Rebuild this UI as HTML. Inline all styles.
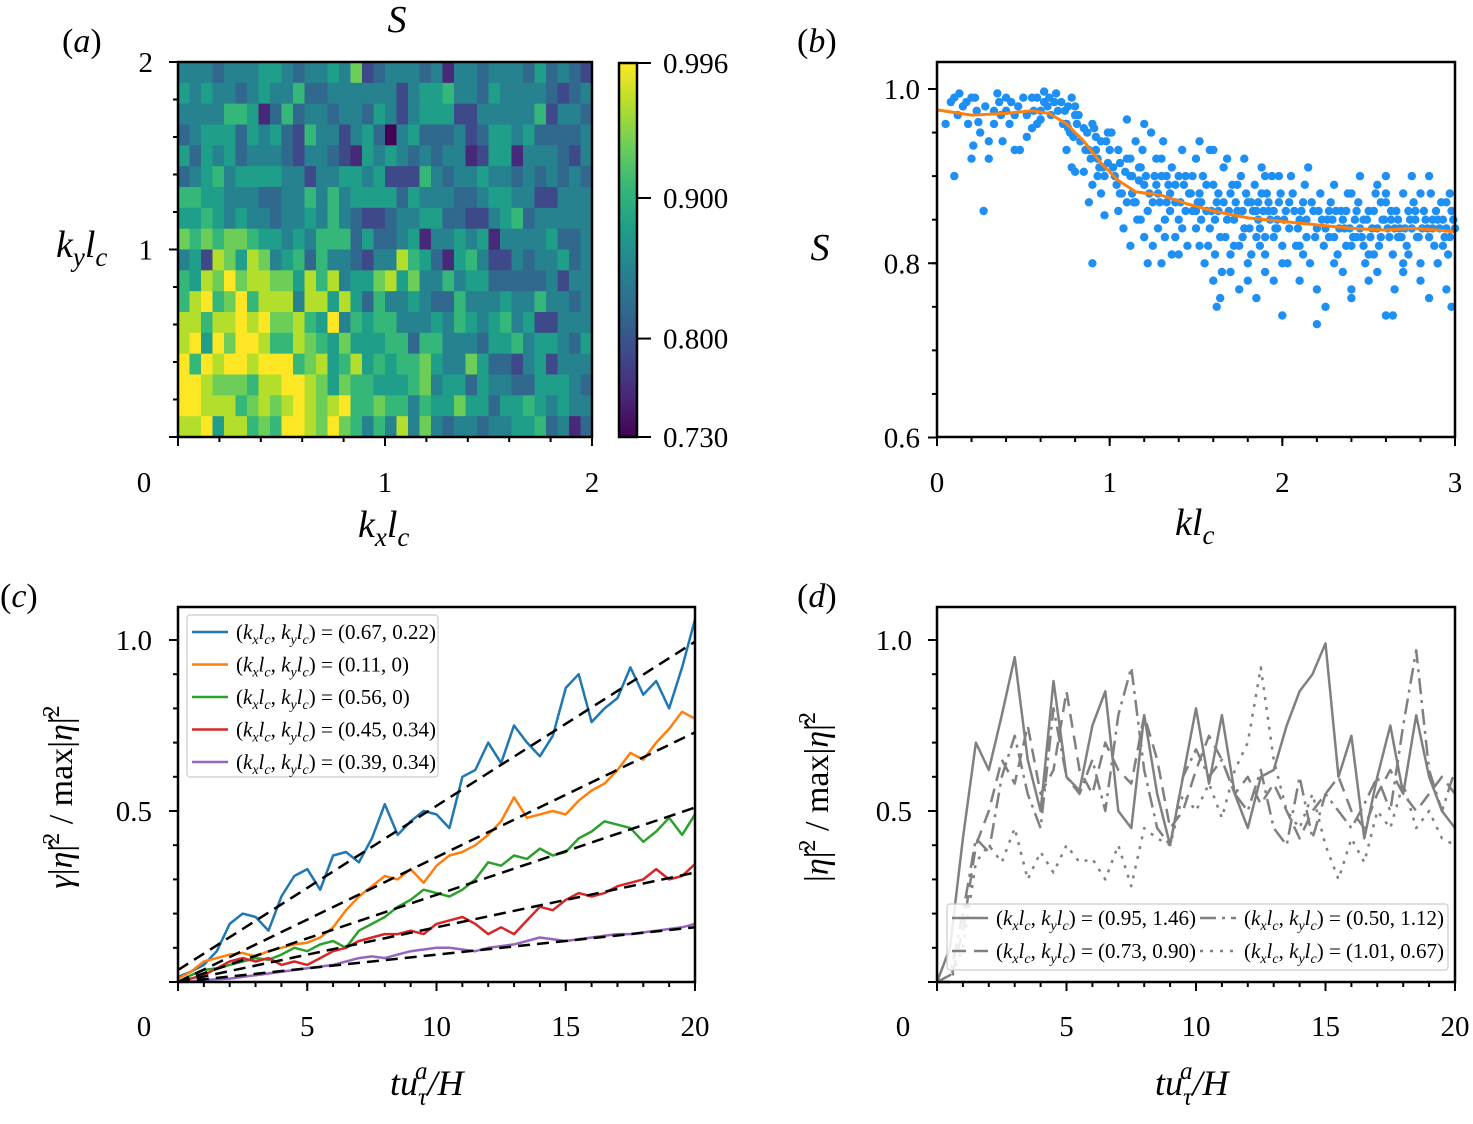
<!DOCTYPE html>
<html><head><meta charset="utf-8"><style>
html,body{margin:0;padding:0;background:#fff}
svg{display:block;font-family:"Liberation Serif",serif}
</style></head><body>
<svg id="fig" width="1473" height="1124" viewBox="0 0 1473 1124" xmlns="http://www.w3.org/2000/svg">
<g font-size="34" fill="#000">
<text x="62" y="52">(<tspan font-style="italic">a</tspan>)</text>
<text x="797" y="52">(<tspan font-style="italic">b</tspan>)</text>
<text x="0" y="607">(<tspan font-style="italic">c</tspan>)</text>
<text x="797" y="607">(<tspan font-style="italic">d</tspan>)</text>
<text x="397" y="32" text-anchor="middle" font-size="38" font-style="italic">S</text>
<text x="358" y="537" font-size="38" font-style="italic">k<tspan font-size="27" dy="9">x</tspan><tspan dy="-9">l</tspan><tspan font-size="27" dy="9">c</tspan></text>
<text x="56" y="257" font-size="38" font-style="italic">k<tspan font-size="27" dy="9">y</tspan><tspan dy="-9">l</tspan><tspan font-size="27" dy="9">c</tspan></text>
<text x="1175" y="535" font-size="38" font-style="italic">kl<tspan font-size="27" dy="9">c</tspan></text>
<text x="820" y="260" font-size="38" font-style="italic" text-anchor="middle">S</text>
<text x="390" y="1095" font-size="36" font-style="italic">tu<tspan font-size="25" dy="10">τ</tspan><tspan font-size="25" dx="-12" dy="-26">a</tspan><tspan dy="16">/H</tspan></text>
<text x="1155" y="1095" font-size="36" font-style="italic">tu<tspan font-size="25" dy="10">τ</tspan><tspan font-size="25" dx="-12" dy="-26">a</tspan><tspan dy="16">/H</tspan></text>
<text transform="translate(72,797) rotate(-90)" text-anchor="middle" font-size="34"><tspan font-style="italic">γ</tspan>|<tspan font-style="italic">η̂</tspan>|<tspan font-size="24" dy="-13">2</tspan><tspan dy="13"> / max|</tspan><tspan font-style="italic">η̂</tspan>|<tspan font-size="24" dy="-13">2</tspan></text>
<text transform="translate(828,797) rotate(-90)" text-anchor="middle" font-size="34">|<tspan font-style="italic">η̂</tspan>|<tspan font-size="24" dy="-13">2</tspan><tspan dy="13"> / max|</tspan><tspan font-style="italic">η̂</tspan>|<tspan font-size="24" dy="-13">2</tspan></text>
</g>
<defs><linearGradient id="vir" x1="0" y1="1" x2="0" y2="0">
<stop offset="0" stop-color="#440154"/><stop offset="0.111" stop-color="#482878"/><stop offset="0.222" stop-color="#3e4989"/><stop offset="0.333" stop-color="#31688e"/><stop offset="0.444" stop-color="#26828e"/><stop offset="0.556" stop-color="#1f9e89"/><stop offset="0.667" stop-color="#35b779"/><stop offset="0.778" stop-color="#6dcd59"/><stop offset="0.889" stop-color="#b4de2c"/><stop offset="1" stop-color="#fde725"/>
</linearGradient></defs>
<g id="layer"></g>
</svg>
<script>
// ---------- data: panel (a) heatmap (levels 0..9 -> S) ----------
const heatRows = [
"444344455434454723444341443444353432",
"545443454463344444424556443544443234",
"444466513634434435424555224444462443",
"345553545326442453045333423554533334",
"535453444324432154543434412551444324",
"345645555442445545222643445443434343",
"665544433446464555535444334554422444",
"556545443445464322344553322456344444",
"767677655454666353345144545144445334",
"452875874563644324486531564224344534",
"658797887758684557857446455333334244",
"689679688848858536445433644454464434",
"886889897786594656644454654564522444",
"895979986687657555663664443556455435",
"969899899967856856566754475332452444",
"998777688998757665556745535443355543",
"998886787898789667664655755355654544",
"889588676998797646484743443445563413"];
const heatMin = 0.73, heatMax = 0.996;
const cbTicks = [0.996, 0.900, 0.800, 0.730];
const cbTickLabels = ["0.996", "0.900", "0.800", "0.730"];

// ---------- data: panel (b) scatter ----------
const scatK = [0.08,0.1,0.13,0.15,0.18,0.2,0.22,0.25,0.28,0.3,0.33,0.36,0.38,0.4,0.42,0.45,0.47,0.5,0.52,0.55,0.58,0.6,0.62,0.64,0.66,0.69,0.3,0.1,0.2,0.24,0.05,0.35,0.48,0.56,0.21,0.45,0.52,0.6,0.27,0.72,0.74,0.76,0.78,0.8,
0.75,0.77,0.8,0.82,0.75,0.78,0.8,0.85,0.87,0.88,0.9,0.92,0.93,0.95,0.96,0.98,1.0,0.9,0.85,0.95,0.97,0.93,0.99,0.88,0.9,0.91,
1.02,1.05,1.07,1.1,1.12,1.14,1.15,1.18,1.2,1.22,1.24,1.26,1.28,1.3,1.32,1.34,1.36,1.38,1.4,1.42,1.44,1.46,1.48,1.5,1.05,1.08,1.12,1.15,1.2,1.25,1.3,1.35,1.4,1.45,1.1,1.2,1.06,1.17,1.27,1.38,1.48,1.33,1.43,1.23,1.13,1.04,1.09,1.5,1.52,1.36,1.29,1.16,1.31,
1.52,1.54,1.56,1.58,1.6,1.62,1.64,1.66,1.68,1.7,1.72,1.74,1.76,1.78,1.8,1.82,1.84,1.86,1.88,1.9,1.92,1.94,1.96,1.98,2.0,1.55,1.6,1.62,1.65,1.7,1.75,1.8,1.85,1.9,1.95,2.0,1.58,1.68,1.78,1.88,1.98,1.53,1.63,1.73,1.83,1.93,1.57,1.67,1.77,1.87,1.97,1.51,1.71,1.91,1.61,1.81,1.64,1.9,1.86,
2.02,2.04,2.06,2.08,2.1,2.12,2.14,2.16,2.18,2.2,2.22,2.24,2.26,2.28,2.3,2.32,2.34,2.36,2.38,2.4,2.42,2.44,2.46,2.48,2.5,2.52,2.54,2.56,2.58,2.6,2.62,2.64,2.66,2.68,2.7,2.72,2.74,2.76,2.78,2.8,2.82,2.84,2.86,2.88,2.9,2.92,2.94,2.96,2.98,3.0,2.05,2.15,2.3,2.45,2.6,2.75,2.85,2.55,2.1,2.2,2.25,2.35,2.4,2.5,2.55,2.6,2.65,2.7,2.8,2.85,2.9,2.95,2.98,2.2,2.12,2.37,2.63,2.87,2.13,2.53,2.73,2.93,2.27,2.47,2.67,2.97,2.57,2.77,2.03,2.43,1.6,2.64,2.4];
const scatS = [0.985,0.99,0.995,0.98,0.96,0.99,0.99,0.95,0.98,0.94,0.96,0.985,0.94,0.975,0.96,0.93,0.98,0.99,0.97,0.955,0.99,0.975,0.997,0.98,0.97,0.995,0.92,0.9,0.92,0.962,0.96,0.995,0.93,0.975,0.935,0.97,0.945,0.965,0.86,0.985,0.975,0.98,0.99,0.97,
0.96,0.95,0.98,0.97,0.93,0.91,0.905,0.955,0.95,0.93,0.96,0.945,0.92,0.94,0.91,0.94,0.93,0.89,0.905,0.88,0.855,0.9,0.95,0.87,0.8,0.955,
0.91,0.93,0.88,0.92,0.9,0.87,0.94,0.91,0.89,0.86,0.95,0.9,0.88,0.92,0.85,0.89,0.91,0.87,0.9,0.93,0.86,0.88,0.9,0.84,0.86,0.84,0.92,0.87,0.83,0.82,0.8,0.88,0.85,0.82,0.965,0.96,0.915,0.895,0.92,0.83,0.86,0.9,0.89,0.88,0.9,0.89,0.905,0.92,0.94,0.81,0.87,0.85,0.94,
0.88,0.9,0.86,0.84,0.89,0.87,0.83,0.91,0.85,0.88,0.82,0.86,0.9,0.84,0.87,0.81,0.89,0.85,0.88,0.83,0.86,0.9,0.84,0.87,0.82,0.8,0.78,0.75,0.79,0.81,0.77,0.8,0.76,0.79,0.78,0.74,0.93,0.92,0.92,0.91,0.9,0.85,0.86,0.87,0.86,0.85,0.82,0.83,0.83,0.82,0.84,0.87,0.89,0.88,0.81,0.84,0.76,0.9,0.87,
0.86,0.84,0.88,0.82,0.85,0.87,0.83,0.8,0.86,0.84,0.88,0.82,0.85,0.87,0.83,0.81,0.86,0.84,0.88,0.82,0.85,0.87,0.83,0.8,0.86,0.84,0.88,0.82,0.85,0.87,0.83,0.81,0.86,0.84,0.88,0.82,0.85,0.87,0.83,0.8,0.86,0.84,0.88,0.82,0.85,0.87,0.83,0.81,0.86,0.84,0.9,0.91,0.89,0.9,0.9,0.9,0.9,0.89,0.78,0.77,0.75,0.79,0.76,0.78,0.79,0.74,0.77,0.79,0.78,0.76,0.8,0.77,0.75,0.73,0.81,0.82,0.85,0.85,0.89,0.81,0.81,0.82,0.86,0.85,0.83,0.88,0.87,0.86,0.8,0.83,0.93,0.74,0.77];
const scatK2 = [0.62,0.65,0.68,0.7,0.73,0.76,0.79,0.81,0.83,0.86,0.89,0.92,0.94,0.97,0.99,0.4,0.43,0.33,0.37,0.17,0.12,0.55,0.58,0.23,
1.01,1.03,1.06,1.1,1.13,1.17,1.19,1.21,1.25,1.27,1.3,1.33,1.35,1.38,1.41,1.44,1.47,1.5,1.53,1.56,1.59,1.12,1.22,1.32,1.42,1.52,1.18,1.28,1.4,
1.61,1.63,1.66,1.69,1.72,1.74,1.77,1.79,1.82,1.85,1.87,1.89,1.92,1.95,1.97,1.99,2.01,2.04,2.07,2.09,2.11,2.14,2.17,2.19,1.7,1.8,1.9,2.0,2.1,1.75,1.85,1.95,
2.21,2.23,2.25,2.27,2.29,2.31,2.33,2.35,2.37,2.39,2.41,2.43,2.45,2.47,2.49,2.51,2.53,2.55,2.57,2.59,2.61,2.63,2.65,2.67,2.69,2.71,2.73,2.75,2.77,2.79,2.81,2.83,2.85,2.87,2.89,2.91,2.93,2.95,2.97,2.99,2.3,2.5,2.7,2.9,2.4,2.6,2.8,2.95];
const scatS2 = [0.985,0.99,0.985,0.975,0.96,0.955,0.945,0.96,0.94,0.93,0.92,0.93,0.91,0.9,0.915,0.99,0.985,0.975,0.97,0.985,0.97,0.99,0.96,0.975,
0.95,0.9,0.88,0.87,0.88,0.91,0.93,0.9,0.87,0.89,0.9,0.87,0.86,0.89,0.87,0.9,0.88,0.86,0.87,0.89,0.86,0.82,0.8,0.83,0.84,0.82,0.85,0.84,0.81,
0.85,0.88,0.87,0.86,0.85,0.89,0.86,0.88,0.87,0.86,0.84,0.86,0.87,0.86,0.85,0.88,0.85,0.87,0.86,0.84,0.86,0.85,0.87,0.83,0.79,0.78,0.81,0.8,0.82,0.82,0.83,0.83,
0.86,0.85,0.84,0.83,0.85,0.86,0.84,0.85,0.86,0.84,0.83,0.86,0.84,0.82,0.85,0.83,0.86,0.84,0.83,0.85,0.84,0.86,0.84,0.85,0.83,0.84,0.86,0.84,0.85,0.83,0.84,0.85,0.83,0.84,0.86,0.84,0.85,0.84,0.83,0.85,0.8,0.81,0.8,0.8,0.88,0.88,0.88,0.87];
const fitK = [0,0.2,0.4,0.55,0.65,0.75,0.85,0.95,1.05,1.15,1.3,1.45,1.6,1.8,2.0,2.2,2.4,2.6,2.75,2.9,3.0];
const fitS = [0.976,0.97,0.972,0.975,0.972,0.96,0.94,0.915,0.895,0.882,0.878,0.868,0.86,0.852,0.848,0.844,0.84,0.838,0.84,0.838,0.836];

// ---------- data: panel (c) ----------
const cLabels = ["(0.67, 0.22)","(0.11, 0)","(0.56, 0)","(0.45, 0.34)","(0.39, 0.34)"];
const cColors = ["#1f77b4","#ff7f0e","#2ca02c","#d62728","#9467bd"];
const tSteps = [0,0.5,1,1.5,2,2.5,3,3.5,4,4.5,5,5.5,6,6.5,7,7.5,8,8.5,9,9.5,10,10.5,11,11.5,12,12.5,13,13.5,14,14.5,15,15.5,16,16.5,17,17.5,18,18.5,19,19.5,20];
const cBlue = [0.015,0.03,0.05,0.09,0.17,0.2,0.19,0.15,0.25,0.31,0.33,0.27,0.37,0.38,0.35,0.42,0.52,0.43,0.47,0.5,0.49,0.45,0.6,0.62,0.7,0.64,0.75,0.7,0.66,0.72,0.86,0.9,0.76,0.8,0.83,0.92,0.84,0.88,0.8,0.92,1.06];
const cOrange = [0.01,0.03,0.06,0.07,0.08,0.085,0.075,0.09,0.1,0.11,0.115,0.13,0.16,0.21,0.25,0.28,0.31,0.3,0.33,0.29,0.34,0.37,0.38,0.4,0.43,0.47,0.54,0.48,0.49,0.5,0.49,0.53,0.56,0.58,0.62,0.67,0.65,0.7,0.74,0.79,0.77];
const cGreen = [0,0.02,0.035,0.04,0.05,0.06,0.07,0.065,0.08,0.1,0.09,0.11,0.12,0.1,0.15,0.17,0.19,0.22,0.24,0.27,0.26,0.25,0.27,0.3,0.35,0.34,0.37,0.36,0.39,0.37,0.38,0.42,0.44,0.47,0.46,0.45,0.41,0.44,0.48,0.43,0.49];
const cRed = [0,0.01,0.02,0.04,0.06,0.07,0.06,0.07,0.05,0.06,0.05,0.07,0.09,0.1,0.12,0.13,0.14,0.14,0.15,0.14,0.17,0.18,0.19,0.17,0.14,0.16,0.14,0.18,0.22,0.21,0.24,0.26,0.25,0.26,0.28,0.29,0.3,0.33,0.3,0.31,0.345];
const cPurple = [0,0.002,0.005,0.008,0.01,0.015,0.02,0.025,0.03,0.035,0.04,0.045,0.05,0.06,0.07,0.075,0.07,0.08,0.09,0.095,0.1,0.1,0.095,0.09,0.1,0.105,0.11,0.12,0.13,0.125,0.12,0.125,0.13,0.135,0.14,0.14,0.145,0.15,0.155,0.16,0.17];
const fitStart = [0.035,0,0,0,0];
const fitEnd = [0.995,0.73,0.51,0.32,0.16];

// ---------- data: panel (d) ----------
const dLabels = ["(0.95, 1.46)","(0.73, 0.90)","(0.50, 1.12)","(1.01, 0.67)"];
const dSolid = [0,0.1,0.42,0.7,0.62,0.78,0.95,0.65,0.5,0.88,0.6,0.56,0.75,0.85,0.5,0.45,0.78,0.55,0.4,0.6,0.8,0.58,0.78,0.55,0.45,0.6,0.62,0.75,0.85,0.9,0.99,0.6,0.72,0.42,0.6,0.75,0.55,0.78,0.6,0.5,0.45];
const dDashed = [0,0,0.15,0.4,0.5,0.65,0.58,0.75,0.55,0.62,0.85,0.62,0.55,0.7,0.62,0.58,0.78,0.65,0.45,0.5,0.62,0.72,0.65,0.55,0.6,0.52,0.58,0.5,0.42,0.5,0.55,0.6,0.5,0.45,0.55,0.62,0.55,0.5,0.55,0.6,0.55];
const dDashDot = [0,0.02,0.2,0.42,0.38,0.6,0.72,0.55,0.45,0.8,0.6,0.55,0.65,0.5,0.78,0.92,0.62,0.45,0.4,0.6,0.68,0.6,0.65,0.55,0.5,0.62,0.45,0.4,0.6,0.42,0.55,0.5,0.45,0.52,0.6,0.5,0.75,0.97,0.62,0.5,0.62];
const dDotted = [0,0,0.1,0.35,0.4,0.35,0.45,0.3,0.38,0.32,0.4,0.35,0.36,0.3,0.4,0.28,0.45,0.42,0.4,0.55,0.5,0.58,0.48,0.62,0.7,0.92,0.65,0.5,0.45,0.55,0.4,0.3,0.42,0.35,0.5,0.45,0.58,0.45,0.5,0.42,0.4];
const dDash = ["", "14,8", "16,6,3,6", "3,7"];

// ---------- helpers ----------
const NS = "http://www.w3.org/2000/svg";
const layer = document.getElementById('layer');
function mk(tag, attrs, parent) {
  const e = document.createElementNS(NS, tag);
  for (const k in attrs) e.setAttribute(k, attrs[k]);
  (parent || layer).appendChild(e);
  return e;
}
function scale(d0, d1, r0, r1) { return v => r0 + (v - d0) / (d1 - d0) * (r1 - r0); }
function pathOf(xs, ys, sx, sy) { return xs.map((x, i) => (i ? 'L' : 'M') + sx(x).toFixed(1) + ',' + sy(ys[i]).toFixed(1)).join(''); }
function ticks(sx, sy, box, xMaj, xMin, yMaj, yMin, name) {
  const g = mk('g', {stroke: '#000', 'stroke-width': 2});
  
  
  xMaj.forEach(v => mk('line', {x1: sx(v), x2: sx(v), y1: box.b, y2: box.b + 9}, g));
  xMin.forEach(v => mk('line', {x1: sx(v), x2: sx(v), y1: box.b, y2: box.b + 5}, g));
  yMaj.forEach(v => mk('line', {x1: box.l, x2: box.l - 9, y1: sy(v), y2: sy(v)}, g));
  yMin.forEach(v => mk('line', {x1: box.l, x2: box.l - 5, y1: sy(v), y2: sy(v)}, g));
}
function frame(box, name) {
  const r = mk('rect', {x: box.l, y: box.t, width: box.r - box.l, height: box.b - box.t, fill: 'none', stroke: '#000', 'stroke-width': 2.5});
  
  
}
function label(x, y, s, anchor, name) {
  const t = mk('text', {x: x, y: y, 'font-size': 29, 'text-anchor': anchor || 'middle'});
  t.textContent = s;
  
  
  return t;
}
function range(a, b, s) { const o = []; for (let v = a; v <= b + 1e-9; v += s) o.push(+v.toFixed(4)); return o; }
const vir = [[68,1,84],[72,40,120],[62,73,137],[49,104,142],[38,130,142],[31,158,137],[53,183,121],[109,205,89],[180,222,44],[253,231,37]];
function viridis(f) {
  f = Math.max(0, Math.min(1, f)) * 9; const i = Math.min(8, Math.floor(f)), u = f - i;
  const c = vir[i].map((v, k) => Math.round(v + (vir[i + 1][k] - v) * u));
  return 'rgb(' + c.join(',') + ')';
}
function legendEntry(g, x, y, lab, color, dash, name) {
  const l = mk('line', {x1: x, x2: x + 36, y1: y, y2: y, stroke: color, 'stroke-width': 2.5}, g);
  if (dash) l.setAttribute('stroke-dasharray', dash);
  
  
  const t = mk('text', {x: x + 44, y: y + 7, 'font-size': 21}, g);
  t.innerHTML = '(<tspan font-style="italic">k</tspan><tspan font-style="italic" font-size="14" dy="5">x</tspan><tspan font-style="italic" dy="-5">l</tspan><tspan font-style="italic" font-size="14" dy="5">c</tspan><tspan dy="-5">, </tspan><tspan font-style="italic">k</tspan><tspan font-style="italic" font-size="14" dy="5">y</tspan><tspan font-style="italic" dy="-5">l</tspan><tspan font-style="italic" font-size="14" dy="5">c</tspan><tspan dy="-5">) = ' + lab + '</tspan>';
  
  
}

// ---------- panel (a) ----------
(function () {
  const box = {l: 178, r: 592, t: 62, b: 437};
  const sx = scale(0, 2, box.l, box.r), sy = scale(0, 2, box.b, box.t);
  const g = mk('g', {});
  
  
  const nr = heatRows.length, nc = heatRows[0].length;
  for (let r = 0; r < nr; r++) for (let c = 0; c < nc; c++) {
    const val = heatMin + (+heatRows[r][c]) / 9 * (heatMax - heatMin);
    const x0 = sx(c * 2 / nc), x1 = sx((c + 1) * 2 / nc);
    const y0 = sy(2 - r * 2 / nr), y1 = sy(2 - (r + 1) * 2 / nr);
    const cell = mk('rect', {x: x0.toFixed(2), y: y0.toFixed(2), width: (x1 - x0 + 0.4).toFixed(2), height: (y1 - y0 + 0.4).toFixed(2), fill: viridis((val - heatMin) / (heatMax - heatMin))}, g);
    
    
  }
  frame(box, 'a');
  ticks(sx, sy, box, [0, 1, 2], range(0.2, 1.8, 0.2), [0, 1, 2], range(0.2, 1.8, 0.2), 'a');
  label(144, 492, '0', 'middle', 'a-origin-label');
  label(sx(1), 492, '1', 'middle', 'a-x-tick-1');
  label(sx(2), 492, '2', 'middle', 'a-x-tick-2');
  label(153, sy(2) + 10, '2', 'end', 'a-y-tick-2');
  label(153, sy(1) + 10, '1', 'end', 'a-y-tick-1');
  const cb = {l: 619, r: 637, t: 63, b: 437};
  const cs = scale(heatMin, heatMax, cb.b, cb.t);
  const bar = mk('rect', {x: cb.l, y: cb.t, width: cb.r - cb.l, height: cb.b - cb.t, fill: 'url(#vir)', stroke: '#000', 'stroke-width': 2.5});
  
  
  cbTicks.forEach((v, i) => {
    const tl = mk('line', {x1: cb.r, x2: cb.r + 14, y1: cs(v), y2: cs(v), stroke: '#000', 'stroke-width': 2});
    
    
    label(663, cs(v) + 10, cbTickLabels[i], 'start', 'colorbar-tick-label');
  });
})();

// ---------- panel (b) ----------
(function () {
  const box = {l: 937, r: 1455, t: 62, b: 437};
  const sx = scale(0, 3, box.l, box.r), sy = scale(0.6, 1.0, 437.5, 89);
  const g = mk('g', {fill: '#1e8ff5'});
  
  
  const allK = scatK.concat(scatK2), allS = scatS.concat(scatS2);
  allK.forEach((k, i) => {
    const c = mk('circle', {cx: sx(k).toFixed(1), cy: sy(allS[i]).toFixed(1), r: 4.2}, g);
    
    
  });
  const p = mk('path', {d: pathOf(fitK, fitS, sx, sy), fill: 'none', stroke: '#ff7f0e', 'stroke-width': 3});
  
  
  frame(box, 'b');
  ticks(sx, sy, box, [0, 1, 2, 3], range(0.2, 2.8, 0.2), [0.6, 0.8, 1.0], range(0.65, 1.0, 0.05), 'b');
  [0, 1, 2, 3].forEach(v => label(sx(v), 492, String(v), 'middle', 'b-x-tick-label'));
  [0.6, 0.8, 1.0].forEach(v => label(920, sy(v) + 10, v.toFixed(1), 'end', 'b-y-tick-label'));
})();

// ---------- panel (c) ----------
(function () {
  const box = {l: 178, r: 695, t: 607, b: 982};
  const sx = scale(0, 20, box.l, box.r), sy = scale(0, 1, box.b, 640);
  const series = [cBlue, cOrange, cGreen, cRed, cPurple];
  series.forEach((s, i) => {
    const p = mk('path', {d: pathOf(tSteps, s, sx, sy), fill: 'none', stroke: cColors[i], 'stroke-width': 2.5, 'stroke-linejoin': 'round'});
    
    
  });
  series.forEach((s, i) => {
    const f = mk('line', {x1: sx(0), y1: sy(fitStart[i]), x2: sx(20), y2: sy(fitEnd[i]), stroke: '#000', 'stroke-width': 2.5, 'stroke-dasharray': '12,7'});
    
    
  });
  frame(box, 'c');
  ticks(sx, sy, box, [0, 5, 10, 15, 20], range(1, 19, 1), [0, 0.5, 1.0], range(0.1, 1.0, 0.1), 'c');
  label(144, 1036, '0', 'middle', 'c-origin-label');
  [5, 10, 15, 20].forEach(v => label(sx(v), 1036, String(v), 'middle', 'c-x-tick-label'));
  [0.5, 1.0].forEach(v => label(152, sy(v) + 10, v.toFixed(1), 'end', 'c-y-tick-label'));
  const lg = mk('g', {});
  
  
  const lb = mk('rect', {x: 187, y: 615, width: 251, height: 162, rx: 3, fill: '#fff', 'fill-opacity': 0.85, stroke: '#ccc', 'stroke-width': 1.2}, lg);
  
  
  cLabels.forEach((l, i) => legendEntry(lg, 192, 632 + i * 32.5, l, cColors[i], '', 'c-legend-entry-' + (i + 1)));
})();

// ---------- panel (d) ----------
(function () {
  const box = {l: 937, r: 1455, t: 607, b: 982};
  const sx = scale(0, 20, box.l, box.r), sy = scale(0, 1, box.b, 640);
  [dSolid, dDashed, dDashDot, dDotted].forEach((s, i) => {
    const p = mk('path', {d: pathOf(tSteps, s, sx, sy), fill: 'none', stroke: '#808080', 'stroke-width': 2.5, 'stroke-linejoin': 'round'});
    if (dDash[i]) p.setAttribute('stroke-dasharray', dDash[i]);
    
    
  });
  frame(box, 'd');
  ticks(sx, sy, box, [0, 5, 10, 15, 20], range(1, 19, 1), [0, 0.5, 1.0], range(0.1, 1.0, 0.1), 'd');
  label(903, 1036, '0', 'middle', 'd-origin-label');
  [5, 10, 15, 20].forEach(v => label(sx(v), 1036, String(v), 'middle', 'd-x-tick-label'));
  [0.5, 1.0].forEach(v => label(912, sy(v) + 10, v.toFixed(1), 'end', 'd-y-tick-label'));
  const lg = mk('g', {});
  
  
  const lb = mk('rect', {x: 947, y: 904, width: 501, height: 66, rx: 3, fill: '#fff', 'fill-opacity': 0.85, stroke: '#ccc', 'stroke-width': 1.2}, lg);
  
  
  legendEntry(lg, 952, 918, dLabels[0], '#808080', dDash[0], 'd-legend-entry-1');
  legendEntry(lg, 952, 951, dLabels[1], '#808080', dDash[1], 'd-legend-entry-2');
  legendEntry(lg, 1200, 918, dLabels[2], '#808080', dDash[2], 'd-legend-entry-3');
  legendEntry(lg, 1200, 951, dLabels[3], '#808080', dDash[3], 'd-legend-entry-4');
})();
</script>
</body></html>
